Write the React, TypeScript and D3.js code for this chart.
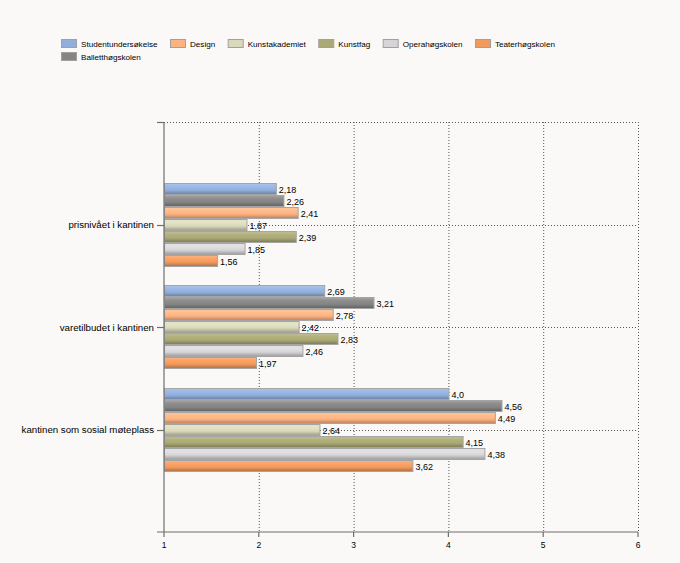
import React, { useEffect, useRef } from "react";
import * as d3 from "d3";

const categories = ["prisnivået i kantinen", "varetilbudet i kantinen", "kantinen som sosial møteplass"];
const seriesNames = ["Studentundersøkelse", "Balletthøgskolen", "Design", "Kunstakademiet", "Kunstfag", "Operahøgskolen", "Teaterhøgskolen"];
const seriesColors = ["#92afdc", "#858585", "#fdb282", "#d8d8ba", "#aaa874", "#d5d5d7", "#f19a5e"];
const values: number[][] = [
  [2.18, 2.69, 4.0],
  [2.26, 3.21, 4.56],
  [2.41, 2.78, 4.49],
  [1.87, 2.42, 2.64],
  [2.39, 2.83, 4.15],
  [1.85, 2.46, 4.38],
  [1.56, 1.97, 3.62],
];
const valueLabels: string[][] = [
  ["2,18", "2,69", "4,0"],
  ["2,26", "3,21", "4,56"],
  ["2,41", "2,78", "4,49"],
  ["1,87", "2,42", "2,64"],
  ["2,39", "2,83", "4,15"],
  ["1,85", "2,46", "4,38"],
  ["1,56", "1,97", "3,62"],
];
const legendOrder = [0, 2, 3, 4, 5, 6, 1];
const xTicks = [1, 2, 3, 4, 5, 6];

const W = 680, H = 563;
const FONT = "'Liberation Sans', Arial, sans-serif";

export default function App() {
  const ref = useRef<SVGSVGElement>(null);
  useEffect(() => {
    const svg = d3.select(ref.current);
    svg.selectAll("*").remove();
    const left = 164, right = 638, top = 122, bottom = 532;
    const x = d3.scaleLinear().domain([1, 6]).range([left, right]);
    const y = d3.scaleLinear().domain([0, categories.length + 1]).range([top, bottom]);
    const inner = d3.scaleBand<number>().domain(d3.range(seriesNames.length)).range([-42, 42]);

    svg.append("rect").attr("width", W).attr("height", H).attr("fill", "#faf9f7");

    const defs = svg.append("defs");
    seriesColors.forEach((c, i) => {
      const g = defs.append("linearGradient").attr("id", "g" + i).attr("x1", 0).attr("y1", 0).attr("x2", 0).attr("y2", 1);
      const base = d3.color(c)!;
      const stops = [
        [0, d3.interpolateRgb(c, "#ffffff")(0.25)],
        [0.3, base.brighter(0.15).formatHex()],
        [0.6, c],
        [1, base.darker(0.9).formatHex()],
      ];
      stops.forEach(([o, col]) => g.append("stop").attr("offset", o as number).attr("stop-color", col as string));
    });

    // grid
    const grid = svg.append("g");
    xTicks.slice(1).forEach((t) => {
      grid.append("line").attr("x1", x(t) + 0.5).attr("x2", x(t) + 0.5).attr("y1", top).attr("y2", bottom)
        .attr("stroke", "#555").attr("stroke-dasharray", "1,2");
    });
    [0, 1, 2, 3].forEach((v) => {
      grid.append("line").attr("x1", left).attr("x2", right).attr("y1", Math.round(y(v)) + 0.5).attr("y2", Math.round(y(v)) + 0.5)
        .attr("stroke", "#555").attr("stroke-dasharray", "1,2");
    });

    // bars
    const bars = svg.append("g");
    seriesNames.forEach((_, s) => {
      categories.forEach((_, c) => {
        const cy = y(c + 1);
        const v = values[s][c];
        const by = Math.round(cy + inner(s)!);
        bars.append("rect")
          .attr("x", x(1) + 0.5).attr("y", by + 0.5)
          .attr("width", x(v) - x(1)).attr("height", inner.bandwidth() - 1)
          .attr("fill", `url(#g${s})`).attr("stroke", "#a5a5a5").attr("stroke-width", 1);
        bars.append("text")
          .attr("x", x(v) + 3).attr("y", by + inner.bandwidth() / 2 + 3.5)
          .attr("font-family", FONT).attr("font-size", 9).attr("fill", "#000")
          .text(valueLabels[s][c]);
      });
    });

    // axes
    const ax = svg.append("g").attr("stroke", "#6e6e6e").attr("stroke-width", 1.2);
    ax.append("line").attr("x1", left).attr("x2", left).attr("y1", top).attr("y2", bottom);
    ax.append("line").attr("x1", left - 7).attr("x2", right).attr("y1", bottom).attr("y2", bottom);
    [0, 1, 2, 3].forEach((v) => {
      ax.append("line").attr("x1", left - 7).attr("x2", left).attr("y1", Math.round(y(v)) + 0.5).attr("y2", Math.round(y(v)) + 0.5);
    });
    xTicks.forEach((t) => {
      ax.append("line").attr("x1", x(t)).attr("x2", x(t)).attr("y1", bottom).attr("y2", bottom + 5);
      svg.append("text").attr("x", x(t)).attr("y", bottom + 16).attr("text-anchor", "middle")
        .attr("font-family", FONT).attr("font-size", 8.5).attr("fill", "#000").text(String(t));
    });
    categories.forEach((c, i) => {
      svg.append("text").attr("x", left - 10).attr("y", y(i + 1) + 3.5).attr("text-anchor", "end")
        .attr("font-family", FONT).attr("font-size", 9.7).attr("fill", "#000").text(c);
    });

    // legend
    const lg = svg.append("g");
    let lx = 61;
    legendOrder.forEach((s, k) => {
      const row = k < 6 ? 0 : 1;
      if (k === 6) lx = 61;
      const ly = 39 + row * 13;
      lg.append("rect").attr("x", lx + 0.5).attr("y", ly + 0.5).attr("width", 15).attr("height", 8)
        .attr("fill", seriesColors[s]).attr("stroke", "#a0a0a0");
      const t = lg.append("text").attr("x", lx + 20).attr("y", ly + 7.5)
        .attr("font-family", FONT).attr("font-size", 8.1).attr("fill", "#000").text(seriesNames[s]);
      const w = (t.node() as SVGTextElement).getComputedTextLength();
      lx = lx + 20 + w + 12.5;
    });
  }, []);
  return <svg ref={ref} width={W} height={H} style={{ display: "block", position: "absolute", left: 0, top: 0 }} />;
}
